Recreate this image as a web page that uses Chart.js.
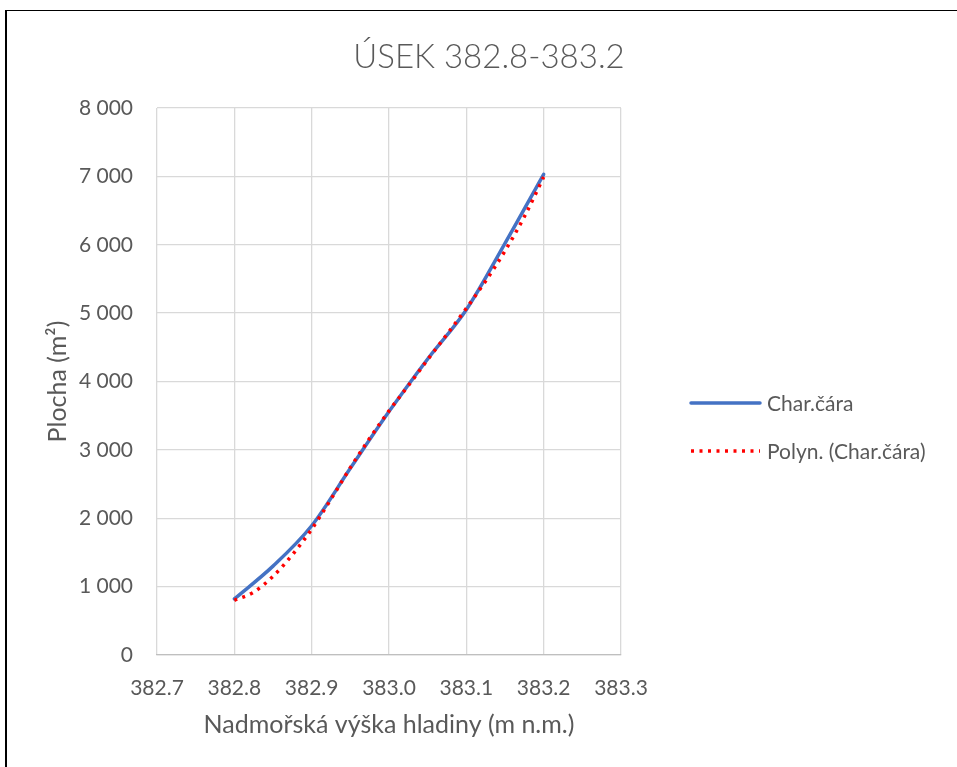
<!DOCTYPE html>
<html>
<head>
<meta charset="utf-8">
<script src="https://cdn.jsdelivr.net/npm/chart.js@4.4.1/dist/chart.umd.min.js"></script>
<style>
  html, body { margin: 0; padding: 0; background: #ffffff; }
  #wrap { position: relative; width: 957px; height: 767px; overflow: hidden; }
  #frame { position: absolute; left: 5px; top: 10px; width: 960px; height: 770px;
           border-left: 2px solid #000; border-top: 1px solid #000; box-sizing: border-box; pointer-events: none; }
  canvas { position: absolute; left: 0; top: 0; }
</style>
</head>
<body>
<div id="wrap">
  <canvas id="c" width="957" height="767"></canvas>
  <div id="frame"></div>
</div>
<script>
// ---- data ----
const chartTitle = "ÚSEK 382.8-383.2";
const xTitle = "Nadmořská výška hladiny (m n.m.)";
const yTitle = "Plocha (m²)";
const seriesName = "Char.čára";
const trendName = "Polyn. (Char.čára)";

const elevations = [382.80, 382.85, 382.90, 382.95, 383.00, 383.05, 383.10, 383.15, 383.20];
const areas      = [820,    1300,   1890,   2730,   3560,   4330,   5050,   6020,   7030];

const trendElev  = [382.800, 382.825, 382.850, 382.875, 382.900, 382.925, 382.950, 382.975,
                    383.000, 383.025, 383.050, 383.075, 383.100, 383.125, 383.150, 383.175, 383.200];
const trendArea  = [800, 920, 1150, 1465, 1840, 2280, 2740, 3170,
                    3570, 3940, 4320, 4690, 5070, 5470, 5910, 6410, 6990];

const xTicks = [382.7, 382.8, 382.9, 383.0, 383.1, 383.2, 383.3];
const yTicks = [0, 1000, 2000, 3000, 4000, 5000, 6000, 7000, 8000];

// ---- styling ----
const TXT = '#595959';
const FONT = 'Lato, "Open Sans", sans-serif';

const mainPts = elevations.map((x, i) => ({x: x, y: areas[i]}));
const trendPts = trendElev.map((x, i) => ({x: x, y: trendArea[i]}));

function fmtThousands(v) {
  return String(Math.round(v)).replace(/\B(?=(\d{3})+(?!\d))/g, ' ');
}

const overlay = {
  id: 'overlay',
  afterDraw(chart) {
    const ctx = chart.ctx;
    ctx.save();
    // title
    ctx.fillStyle = TXT;
    ctx.font = '300 33px ' + FONT;
    ctx.textAlign = 'center';
    ctx.textBaseline = 'middle';
    ctx.fillText(chartTitle, 489, 57);
    // legend
    const ds = chart.data.datasets;
    const rows = [403, 451];
    ds.forEach((d, i) => {
      const y = rows[i];
      ctx.beginPath();
      ctx.strokeStyle = d.borderColor;
      ctx.lineWidth = d.borderWidth;
      ctx.lineCap = d.borderCapStyle || 'butt';
      ctx.setLineDash(d.borderDash || []);
      ctx.moveTo(691, y);
      ctx.lineTo(760, y);
      ctx.stroke();
      ctx.setLineDash([]);
      ctx.fillStyle = TXT;
      ctx.font = '21px ' + FONT;
      ctx.textAlign = 'left';
      ctx.textBaseline = 'middle';
      ctx.fillText(d.label, 767, y + 1);
    });
    ctx.restore();
  }
};

new Chart(document.getElementById('c'), {
  type: 'scatter',
  data: {
    datasets: [
      {
        label: seriesName,
        data: mainPts,
        showLine: true,
        borderColor: '#4472C4',
        backgroundColor: '#4472C4',
        borderWidth: 3.5,
        pointRadius: 0,
        tension: 0.4,
        cubicInterpolationMode: 'monotone',
        borderCapStyle: 'round',
        order: 2
      },
      {
        label: trendName,
        data: trendPts,
        showLine: true,
        borderColor: '#FF0000',
        backgroundColor: '#FF0000',
        borderWidth: 3.5,
        borderDash: [3, 5.5],
        borderCapStyle: 'butt',
        pointRadius: 0,
        tension: 0.4,
        cubicInterpolationMode: 'monotone',
        order: 1
      }
    ]
  },
  options: {
    responsive: false,
    animation: false,
    devicePixelRatio: 1,
    layout: { padding: { left: 0, top: 108, right: 336, bottom: 0 } },
    plugins: {
      legend: { display: false },
      title: { display: false },
      tooltip: { enabled: false }
    },
    scales: {
      x: {
        type: 'linear',
        min: 382.7,
        max: 383.3,
        afterBuildTicks(scale) { scale.ticks = xTicks.map(v => ({value: v})); },
        afterFit(scale) { scale.height = 112; },
        ticks: {
          color: TXT,
          font: { family: FONT, size: 21 },
          padding: 21,
          maxRotation: 0,
          callback: v => Number(v).toFixed(1)
        },
        grid: { color: '#d9d9d9', lineWidth: 1.3, drawTicks: false },
        border: { display: true, color: '#bfbfbf', width: 1.3 },
        title: {
          display: true,
          text: xTitle,
          color: TXT,
          font: { family: FONT, size: 25 },
          padding: { top: 0, bottom: 27 }
        }
      },
      y: {
        type: 'linear',
        min: 0,
        max: 8000,
        afterBuildTicks(scale) { scale.ticks = yTicks.map(v => ({value: v})); },
        afterFit(scale) { scale.width = 157; },
        ticks: {
          color: TXT,
          font: { family: FONT, size: 21 },
          padding: 24,
          callback: v => fmtThousands(v)
        },
        grid: { color: '#d9d9d9', lineWidth: 1.3, drawTicks: false },
        border: { display: false },
        title: {
          display: true,
          text: yTitle,
          color: TXT,
          font: { family: FONT, size: 25 },
          padding: { top: 43, bottom: 0 }
        }
      }
    }
  },
  plugins: [overlay]
});
</script>
</body>
</html>
